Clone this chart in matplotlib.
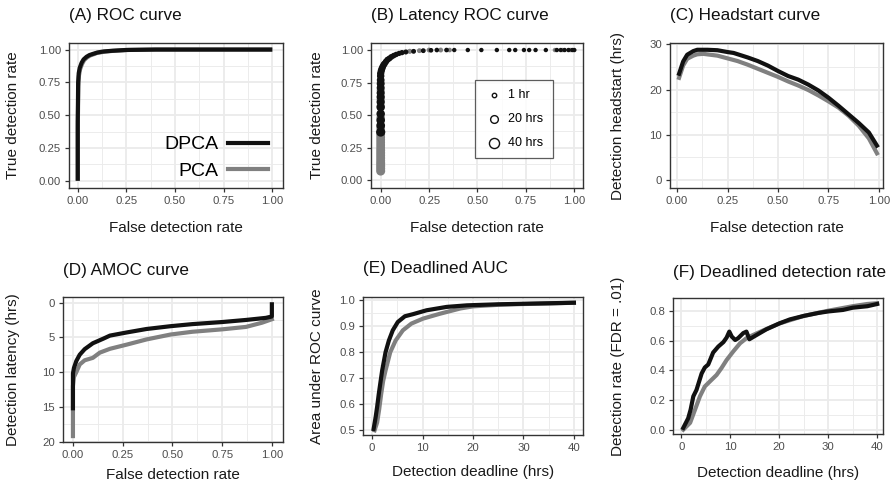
import matplotlib
matplotlib.use("Agg")
import matplotlib.pyplot as plt
from matplotlib.ticker import FixedLocator
from matplotlib.lines import Line2D

plt.rcParams['font.family'] = ['Liberation Sans', 'DejaVu Sans']

BLACK = '#111111'
GREY = '#808080'

# ---------------- (A) ROC curve ----------------
roc_dpca_fdr = [0.0, 0.0, 0.002, 0.005, 0.01, 0.02, 0.03, 0.045, 0.06, 0.08, 0.1, 0.13, 0.17, 0.25, 0.4, 0.6, 0.8, 1.0]
roc_dpca_tdr = [0.0, 0.45, 0.75, 0.82, 0.86, 0.9, 0.925, 0.945, 0.958, 0.968, 0.977, 0.985, 0.99, 0.997, 1.0, 1.0, 1.0, 1.0]
roc_pca_fdr = [0.0, 0.0, 0.003, 0.006, 0.012, 0.022, 0.033, 0.048, 0.064, 0.085, 0.1, 0.14, 0.18, 0.26, 0.4, 0.6, 0.8, 1.0]
roc_pca_tdr = [0.0, 0.4, 0.72, 0.8, 0.85, 0.89, 0.92, 0.94, 0.955, 0.966, 0.975, 0.984, 0.99, 0.997, 1.0, 1.0, 1.0, 1.0]

# ---------------- (B) Latency ROC curve ----------------
lat_dpca_fdr = [0, 0, 0, 0, 0, 0, 0, 0, 0, 0, 0, 0, 0,
                0.003, 0.006, 0.01, 0.015, 0.02, 0.027, 0.035, 0.045, 0.055, 0.067, 0.08, 0.095, 0.11, 0.13,
                0.17, 0.22, 0.26, 0.29, 0.34, 0.38, 0.45, 0.52, 0.6, 0.664, 0.695, 0.74, 0.767, 0.80,
                0.853, 0.91, 0.93, 0.95, 0.97, 0.99, 1.0]
lat_dpca_tdr = [0.37, 0.42, 0.46, 0.51, 0.56, 0.60, 0.64, 0.67, 0.71, 0.74, 0.77, 0.80, 0.82,
                0.84, 0.855, 0.87, 0.885, 0.895, 0.91, 0.925, 0.935, 0.947, 0.957, 0.966, 0.974, 0.98, 0.985,
                0.99, 0.995, 0.998, 1.0, 1.0, 1.0, 1.0, 1.0, 1.0, 1.0, 1.0, 1.0, 1.0, 1.0,
                1.0, 1.0, 1.0, 1.0, 1.0, 1.0, 1.0]
lat_dpca_hrs = [32, 28, 27, 26, 25, 24, 24, 23, 22, 21, 20, 18, 17,
                16, 15, 14, 13, 12, 11, 10, 9, 8, 7, 6, 5, 5, 4,
                3, 3, 2, 2, 2, 1, 1, 1, 1, 1, 1, 1, 1, 1,
                1, 1, 1, 1, 1, 1, 1]

lat_pca_fdr = [0, 0, 0, 0, 0, 0, 0, 0, 0, 0, 0, 0, 0, 0, 0,
               0, 0, 0, 0, 0, 0,
               0.15, 0.2, 0.25, 0.31, 0.356, 0.9, 0.94, 0.98]
lat_pca_tdr = [0.07, 0.09, 0.11, 0.13, 0.15, 0.17, 0.19, 0.21, 0.23, 0.25, 0.27, 0.29, 0.31, 0.33, 0.35,
               0.40, 0.48, 0.57, 0.62, 0.69, 0.75,
               0.99, 0.995, 1.0, 1.0, 1.0, 1.0, 1.0, 1.0]
lat_pca_hrs = [30, 30, 30, 30, 29, 29, 29, 29, 29, 28, 28, 28, 28, 28, 28,
               27, 26, 24, 23, 22, 21,
               4, 3, 3, 3, 2, 1, 1, 1]
lat_legend_hrs = [1, 20, 40]
lat_legend_labels = ['1 hr', '20 hrs', '40 hrs']

# ---------------- (C) Headstart curve ----------------
hs_dpca_fdr = [0.01, 0.03, 0.05, 0.08, 0.1, 0.15, 0.2, 0.25, 0.28, 0.35, 0.4, 0.45, 0.5, 0.55, 0.6,
               0.65, 0.7, 0.75, 0.8, 0.85, 0.9, 0.95, 0.99]
hs_dpca_hrs = [23.5, 26.2, 27.7, 28.5, 28.8, 28.8, 28.7, 28.3, 28.1, 27.1, 26.3, 25.3, 24.1, 23.0, 22.2,
               21.1, 19.8, 18.2, 16.4, 14.5, 12.6, 10.5, 7.6]
hs_pca_fdr = [0.01, 0.03, 0.05, 0.08, 0.1, 0.13, 0.2, 0.25, 0.3, 0.35, 0.4, 0.45, 0.5, 0.55, 0.6,
              0.65, 0.7, 0.75, 0.8, 0.85, 0.9, 0.95, 0.99]
hs_pca_hrs = [22.6, 25.3, 26.8, 27.5, 27.8, 27.9, 27.5, 26.9, 26.3, 25.5, 24.6, 23.7, 22.8, 21.8, 20.9,
              19.9, 18.7, 17.4, 16.0, 14.2, 12.0, 9.2, 5.9]

# ---------------- (D) AMOC curve ----------------
amoc_dpca_fdr = [0.0, 0.0, 0.005, 0.017, 0.034, 0.059, 0.1, 0.152, 0.186, 0.27, 0.37, 0.49, 0.6,
                 0.75, 0.87, 0.97, 1.0, 1.0]
amoc_dpca_hrs = [15.2, 10.2, 9.4, 8.4, 7.5, 6.7, 5.85, 5.2, 4.75, 4.3, 3.8, 3.4, 3.1,
                 2.8, 2.5, 2.2, 2.0, 0.25]
amoc_pca_fdr = [0.0, 0.0, 0.005, 0.017, 0.034, 0.059, 0.1, 0.135, 0.186, 0.27, 0.37, 0.49, 0.6,
                0.75, 0.87, 0.95, 1.0]
amoc_pca_hrs = [19.2, 12.0, 10.7, 10.0, 8.9, 8.3, 7.95, 7.2, 6.65, 6.05, 5.3, 4.6, 4.2,
                3.85, 3.5, 2.9, 2.4]

# ---------------- (E) Deadlined AUC ----------------
auc_dpca_hrs = [0.3, 0.7, 1.0, 1.33, 1.7, 2.0, 2.67, 3.33, 4.1, 5.1, 6.5, 8.1, 10.8, 14.8, 18.8, 25, 30, 35, 40]
auc_dpca_val = [0.505, 0.55, 0.59, 0.64, 0.69, 0.73, 0.80, 0.845, 0.884, 0.916, 0.938, 0.946, 0.961, 0.974,
                0.98, 0.984, 0.986, 0.988, 0.99]
auc_pca_hrs = [0.5, 1.0, 1.4, 1.8, 2.2, 2.67, 3.6, 4.67, 6.1, 7.8, 10.1, 13.5, 17.5, 20, 25, 30, 35, 40]
auc_pca_val = [0.5, 0.53, 0.58, 0.639, 0.69, 0.73, 0.80, 0.845, 0.884, 0.91, 0.929, 0.948, 0.968, 0.976,
               0.982, 0.985, 0.987, 0.99]

# ---------------- (F) Deadlined detection rate ----------------
ddr_dpca_hrs = [0.4, 1.4, 1.9, 2.45, 3.1, 4.15, 4.8, 5.5, 6.5, 7.55, 8.6, 9.25, 9.8, 10.3, 11.0, 11.6,
                12.65, 13.3, 13.9, 15.4, 17.4, 20.1, 22.2, 25, 28, 30, 33, 35, 38, 40]
ddr_dpca_val = [0.016, 0.08, 0.138, 0.227, 0.27, 0.38, 0.42, 0.44, 0.52, 0.56, 0.59, 0.62, 0.66, 0.627,
                0.604, 0.616, 0.65, 0.66, 0.609, 0.638, 0.676, 0.716, 0.742, 0.765, 0.785, 0.795, 0.805,
                0.82, 0.83, 0.845]
ddr_pca_hrs = [0.4, 1.8, 2.8, 3.8, 4.8, 5.85, 7.2, 8.2, 9.25, 10.6, 12.0, 13.3, 14.7, 17, 20, 25, 30, 35,
               38, 40]
ddr_pca_val = [0.004, 0.05, 0.138, 0.227, 0.293, 0.327, 0.37, 0.416, 0.47, 0.527, 0.582, 0.616, 0.638,
               0.672, 0.714, 0.765, 0.8, 0.83, 0.845, 0.85]

W, H = 892, 492
fig = plt.figure(figsize=(W / 100, H / 100), dpi=100)

TITLE_FS = 12.3
LABEL_FS = 11
TICK_FS = 8.2
LW = 3.0


def make_ax(left, right, top, bottom):
    return fig.add_axes([left / W, 1 - bottom / H, (right - left) / W, (bottom - top) / H])


def style(ax, title, xlabel, ylabel, xmaj, xmin, ymaj, ymin, ylab_x, xlab_y, title_y):
    ax.set_facecolor('white')
    ax.xaxis.set_major_locator(FixedLocator(xmaj))
    ax.xaxis.set_minor_locator(FixedLocator(xmin))
    ax.yaxis.set_major_locator(FixedLocator(ymaj))
    ax.yaxis.set_minor_locator(FixedLocator(ymin))
    ax.grid(True, which='major', color='#EBEBEB', lw=1.3, zorder=0)
    ax.grid(True, which='minor', color='#EBEBEB', lw=0.65, zorder=0)
    ax.set_axisbelow(True)
    for s in ax.spines.values():
        s.set_color('#333333')
        s.set_linewidth(1.0)
        s.set_zorder(5)
    ax.tick_params(which='major', direction='out', length=3.2, width=0.9, color='#333333',
                   labelsize=TICK_FS, labelcolor='#4D4D4D', pad=2.5)
    ax.tick_params(which='minor', length=0)
    ax.set_xlabel(xlabel, fontsize=LABEL_FS, color='#1A1A1A')
    ax.set_ylabel(ylabel, fontsize=LABEL_FS, color='#1A1A1A')
    ax.xaxis.set_label_coords(0.5, xlab_y)
    ax.xaxis.label.set_va('center')
    ax.yaxis.set_label_coords(ylab_x, 0.5)
    ax.yaxis.label.set_va('center')
    ax.text(0.0, title_y, title, transform=ax.transAxes, ha='left', va='center',
            fontsize=TITLE_FS, color='#111111')


q = [0, 0.25, 0.5, 0.75, 1.0]
qlabels = ['0.00', '0.25', '0.50', '0.75', '1.00']
qmin = [0.125, 0.375, 0.625, 0.875]

# (A)
axA = make_ax(69, 283, 43, 188)
axA.plot(roc_pca_fdr, roc_pca_tdr, color=GREY, lw=LW, solid_capstyle='butt', zorder=3)
axA.plot(roc_dpca_fdr, roc_dpca_tdr, color=BLACK, lw=LW, solid_capstyle='butt', zorder=4)
axA.set_xlim(-0.045, 1.055)
axA.set_ylim(-0.055, 1.05)
style(axA, '(A) ROC curve', 'False detection rate', 'True detection rate', q, qmin, q, qmin,
      -0.262, -0.276, 1.193)
axA.set_xticklabels(qlabels)
axA.set_yticklabels(qlabels)
hA = [Line2D([], [], color=BLACK, lw=LW), Line2D([], [], color=GREY, lw=LW)]
axA.legend(hA, ['DPCA', 'PCA'], loc='lower right', bbox_to_anchor=(0.93, 0.055), frameon=False,
           markerfirst=False, fontsize=14, handlelength=2.05, handletextpad=0.5, labelspacing=0.46,
           borderaxespad=0, borderpad=0)

# (B)
axB = make_ax(371, 583, 43, 188)


def sz(h):
    return [9 + 1.1 * v for v in h]


axB.scatter(lat_pca_fdr, lat_pca_tdr, s=sz(lat_pca_hrs), color=GREY, edgecolors='none', zorder=3)
axB.scatter(lat_dpca_fdr, lat_dpca_tdr, s=sz(lat_dpca_hrs), color=BLACK, edgecolors='none', zorder=4)
axB.set_xlim(-0.05, 1.045)
axB.set_ylim(-0.06, 1.054)
style(axB, '(B) Latency ROC curve', 'False detection rate', 'True detection rate', q, qmin, q, qmin,
      -0.256, -0.276, 1.193)
axB.set_xticklabels(qlabels)
axB.set_yticklabels(qlabels)
hB = [axB.scatter([], [], s=sz([h])[0], facecolors='white', edgecolors=BLACK, linewidths=1.0)
      for h in lat_legend_hrs]
legB = axB.legend(hB, lat_legend_labels, loc='upper left', bbox_to_anchor=(0.49, 0.745), frameon=True,
                  fontsize=9, fancybox=False, borderpad=0.75, labelspacing=0.95, handletextpad=0.3,
                  borderaxespad=0, handlelength=1.6)
legB.get_frame().set_edgecolor('#333333')
legB.get_frame().set_linewidth(0.9)

# (C)
axC = make_ax(670, 883, 43, 188)
axC.plot(hs_pca_fdr, hs_pca_hrs, color=GREY, lw=LW, zorder=3)
axC.plot(hs_dpca_fdr, hs_dpca_hrs, color=BLACK, lw=LW, zorder=4)
axC.set_xlim(-0.035, 1.02)
axC.set_ylim(-1.77, 30.3)
style(axC, '(C) Headstart curve', 'False detection rate', 'Detection headstart (hrs)', q, qmin,
      [0, 10, 20, 30], [5, 15, 25], -0.244, -0.276, 1.193)
axC.set_xticklabels(qlabels)

# (D)
axD = make_ax(63, 283, 297, 442)
axD.plot(amoc_pca_fdr, amoc_pca_hrs, color=GREY, lw=LW, zorder=3)
axD.plot(amoc_dpca_fdr, amoc_dpca_hrs, color=BLACK, lw=LW, zorder=4)
axD.set_xlim(-0.05, 1.056)
axD.set_ylim(20.05, -0.8)
style(axD, '(D) AMOC curve', 'False detection rate', 'Detection latency (hrs)', q, qmin,
      [0, 5, 10, 15, 20], [2.5, 7.5, 12.5, 17.5], -0.227, -0.228, 1.186)
axD.set_xticklabels(qlabels)

# (E)
axE = make_ax(363, 583, 297, 435)
axE.plot(auc_pca_hrs, auc_pca_val, color=GREY, lw=LW, zorder=3)
axE.plot(auc_dpca_hrs, auc_dpca_val, color=BLACK, lw=LW, zorder=4)
axE.set_xlim(-1.8, 41.8)
axE.set_ylim(0.482, 1.012)
style(axE, '(E) Deadlined AUC', 'Detection deadline (hrs)', 'Area under ROC curve', [0, 10, 20, 30, 40],
      [5, 15, 25, 35], [0.5, 0.6, 0.7, 0.8, 0.9, 1.0], [0.55, 0.65, 0.75, 0.85, 0.95], -0.21, -0.266, 1.21)
axE.set_yticklabels(['0.5', '0.6', '0.7', '0.8', '0.9', '1.0'])

# (F)
axF = make_ax(673, 883, 298, 434)
axF.plot(ddr_pca_hrs, ddr_pca_val, color=GREY, lw=LW, zorder=3)
axF.plot(ddr_dpca_hrs, ddr_dpca_val, color=BLACK, lw=LW, zorder=4)
axF.set_xlim(-1.7, 41.2)
axF.set_ylim(-0.025, 0.885)
style(axF, '(F) Deadlined detection rate', 'Detection deadline (hrs)', 'Detection rate (FDR = .01)',
      [0, 10, 20, 30, 40], [5, 15, 25, 35], [0.0, 0.2, 0.4, 0.6, 0.8], [0.1, 0.3, 0.5, 0.7],
      -0.262, -0.287, 1.19)
axF.set_yticklabels(['0.0', '0.2', '0.4', '0.6', '0.8'])

fig.savefig('out.png', dpi=100, facecolor='white')
